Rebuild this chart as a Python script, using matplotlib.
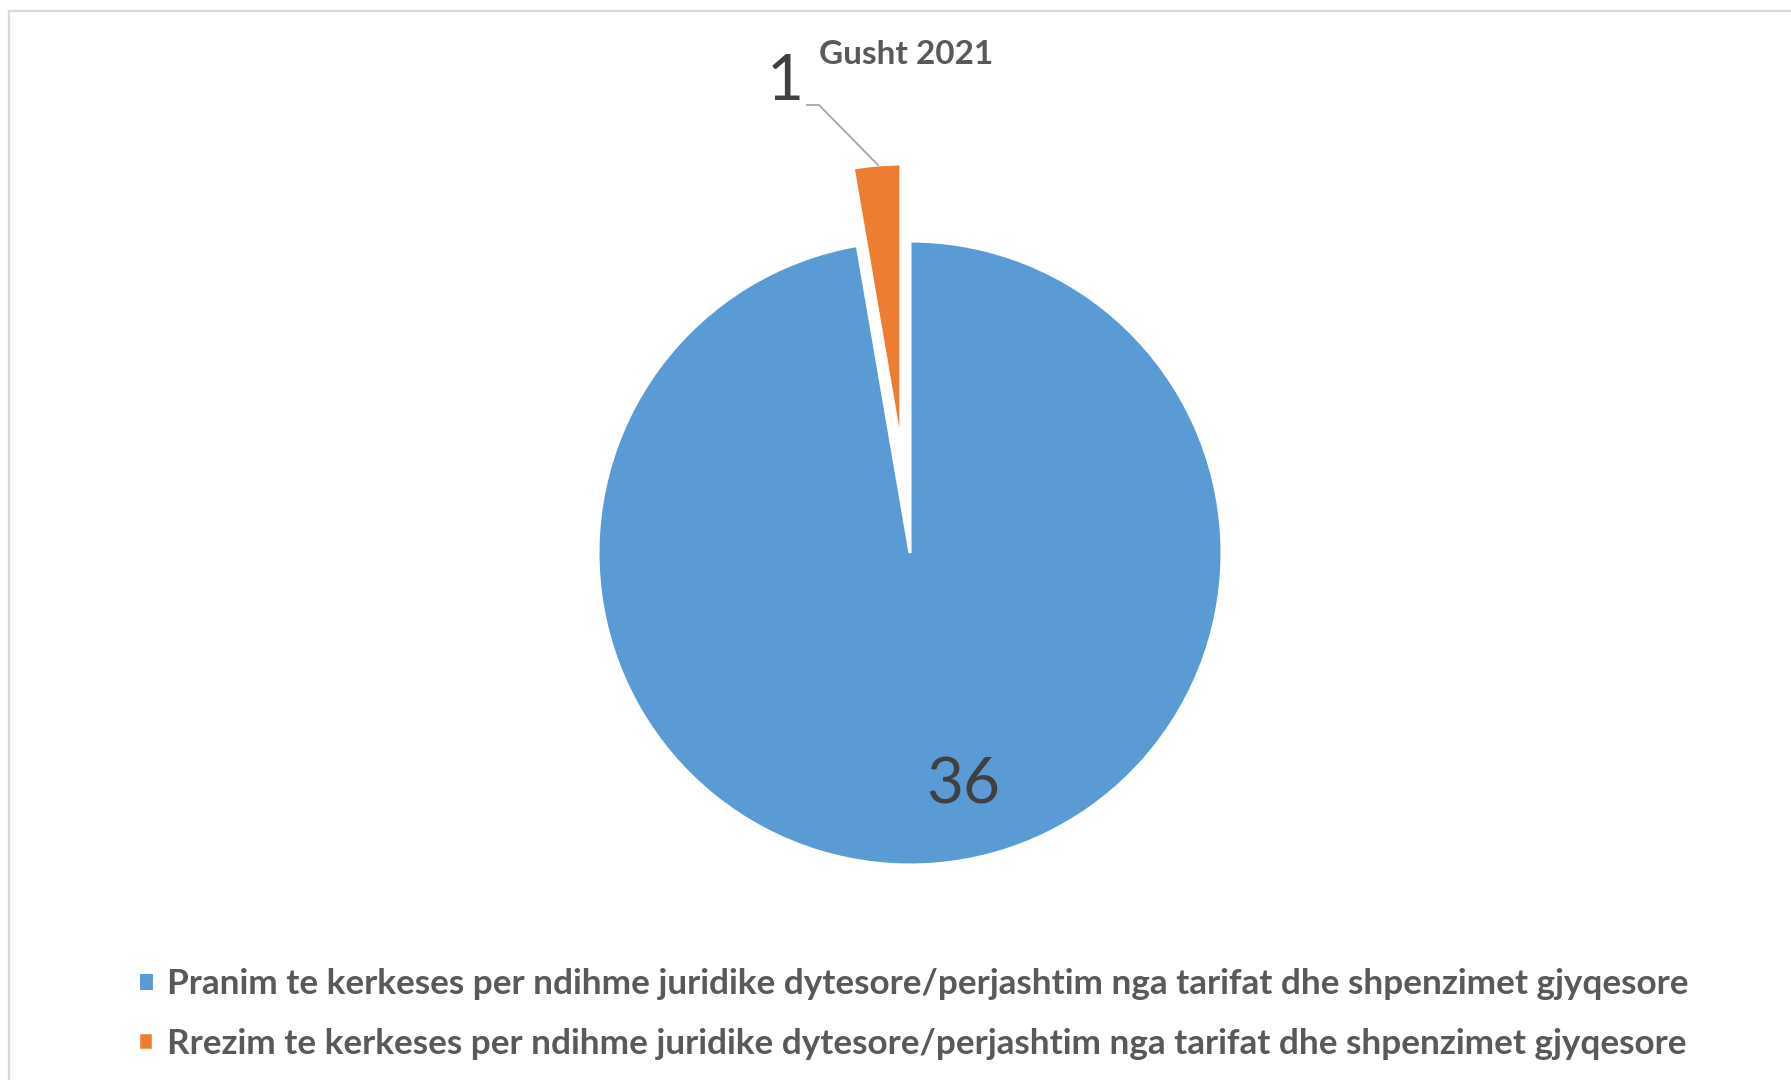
import matplotlib.pyplot as plt
from matplotlib.lines import Line2D

# --- Data ---
labels = ['Pranim te kerkeses per ndihme juridike dytesore/perjashtim nga tarifat dhe shpenzimet gjyqesore',
          'Rrezim te kerkeses per ndihme juridike dytesore/perjashtim nga tarifat dhe shpenzimet gjyqesore']
values = [36, 1]
colors = ['#5B9BD5', '#ED7D31']
title = 'Gusht 2021'

W, H = 1791, 1080
fig = plt.figure(figsize=(W / 100, H / 100), dpi=100)
ax = fig.add_axes([0, 0, 1, 1])

# chart frame (cut off at right and bottom)
fig.add_artist(Line2D([9 / W, 9 / W], [0, 1 - 11 / H], color='#D9D9D9', lw=1.6))
fig.add_artist(Line2D([9 / W, 1], [1 - 11 / H, 1 - 11 / H], color='#D9D9D9', lw=1.6))

# --- Pie --- (axes units are pixels, y up; explode is in data units here)
R = 312
wedges, _ = ax.pie(values, colors=colors, startangle=90, counterclock=False,
                   explode=[0, 99], center=(910, H - 553), radius=R,
                   wedgeprops=dict(edgecolor='white', linewidth=2.2),
                   frame=True)
wedges[1].set_radius(291)
wedges[1].set_linewidth(3.2)
ax.set_xlim(0, W)
ax.set_ylim(0, H)
ax.axis('off')

# data labels
ax.text(963, H - 785, str(values[0]), fontsize=46, family='Lato',
        color='#404040', ha='center', va='center')
ax.text(785, H - 82, str(values[1]), fontsize=46, family='Lato',
        color='#404040', ha='center', va='center')
ax.plot([807, 819, 878], [H - 105, H - 105, H - 165], color='#A6A6A6', lw=1.3)

# title
ax.text(906, H - 55, title, fontsize=24, family='Lato', fontweight='bold',
        color='#595959', ha='center', va='center')

# --- Legend ---
fig.legend(wedges, labels, loc='upper left', bbox_to_anchor=(138 / W, 1 - 968 / H),
           frameon=False, prop=dict(family='Lato', weight='bold', size=25.3),
           labelcolor='#595959', handlelength=0.46, handleheight=0.46,
           handletextpad=0.37, labelspacing=0.8, borderpad=0, borderaxespad=0)

fig.savefig('out.png', dpi=100, facecolor='white')
